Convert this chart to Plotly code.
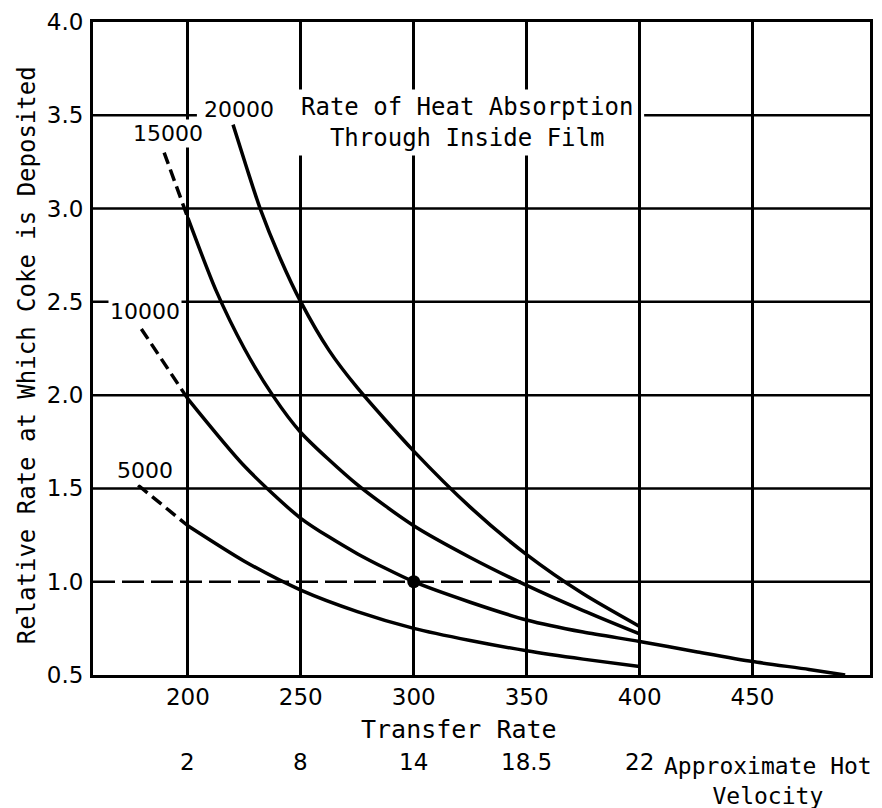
import plotly.graph_objects as go

# Heat transfer rate (x) vs. relative rate of coke deposition (y)
transfer_ticks = [200, 250, 300, 350, 400, 450]
coke_ticks = [0.5, 1.0, 1.5, 2.0, 2.5, 3.0, 3.5, 4.0]

# Approximate hot velocity at given transfer rates
velocity_rate = [200, 250, 300, 350, 400]
velocity_text = ["2", "8", "14", "18.5", "22"]

# Curves, one per rate of heat absorption through the inside film
curve_names = ["5000", "10000", "15000", "20000"]

rate_5000_ext = [178, 200]
coke_5000_ext = [1.517, 1.30]
rate_5000 = [200, 225, 250, 275, 300, 325, 350, 375, 400]
coke_5000 = [1.30, 1.11, 0.955, 0.84, 0.75, 0.685, 0.63, 0.585, 0.545]

rate_10000_ext = [179.4, 200]
coke_10000_ext = [2.355, 1.98]
rate_10000 = [200, 225, 250, 275, 300, 325, 350, 375, 400, 425, 450, 475, 491]
coke_10000 = [1.98, 1.62, 1.34, 1.15, 1.0, 0.89, 0.795, 0.73, 0.68, 0.625, 0.572, 0.53, 0.5]

rate_15000_ext = [189.5, 200]
coke_15000_ext = [3.30, 2.95]
rate_15000 = [200, 212.5, 225, 237.5, 250, 275, 300, 325, 350, 375, 400]
coke_15000 = [2.95, 2.56, 2.25, 2.00, 1.80, 1.52, 1.30, 1.13, 0.98, 0.845, 0.72]

rate_20000 = [220, 226, 232, 241, 250, 262.5, 275, 300, 325, 350, 375, 400]
coke_20000 = [3.45, 3.22, 3.0, 2.73, 2.5, 2.24, 2.04, 1.70, 1.40, 1.145, 0.935, 0.76]

# Reference point
ref_rate = [300]
ref_coke = [1.0]

INK = "black"
NUM_FONT = "DejaVu Sans"
WORD_FONT = "DejaVu Sans Mono"
X_RANGE = [158, 502]
Y_RANGE = [0.5, 4.0]

fig = go.Figure()

solid = dict(color=INK, width=3.5, shape="spline", smoothing=0.7)
dashed = dict(color=INK, width=3.5, dash="12px,6px")

for xs, ys in [(rate_5000_ext, coke_5000_ext), (rate_10000_ext, coke_10000_ext),
               (rate_15000_ext, coke_15000_ext)]:
    fig.add_trace(go.Scatter(x=xs, y=ys, mode="lines", line=dashed,
                             hoverinfo="skip", showlegend=False))

for name, xs, ys in [("5000", rate_5000, coke_5000), ("10000", rate_10000, coke_10000),
                     ("15000", rate_15000, coke_15000), ("20000", rate_20000, coke_20000)]:
    fig.add_trace(go.Scatter(x=xs, y=ys, mode="lines", line=solid, name=name,
                             showlegend=False))

fig.add_trace(go.Scatter(x=ref_rate, y=ref_coke, mode="markers",
                         marker=dict(color=INK, size=13), showlegend=False))

# Horizontal rules; the 1.0 rule is dashed across its left part and the
# 3.5 rule stops either side of the heading
rule = dict(color=INK, width=2.5)
shapes = []
for v in coke_ticks[2:-1]:
    if v == 3.5:
        spans = [(X_RANGE[0], 204), (402, X_RANGE[1])]
    else:
        spans = [(X_RANGE[0], X_RANGE[1])]
    for a, b in spans:
        shapes.append(dict(type="line", xref="x", yref="y", x0=a, x1=b,
                           y0=v, y1=v, line=rule, layer="below"))
shapes.append(dict(type="line", xref="x", yref="y", x0=X_RANGE[0], x1=365,
                   y0=1.0, y1=1.0, line=dict(color=INK, width=2.5, dash="22px,7px"),
                   layer="below"))
shapes.append(dict(type="line", xref="x", yref="y", x0=365, x1=X_RANGE[1],
                   y0=1.0, y1=1.0, line=rule, layer="below"))

annotations = []
label_pos = {"5000": (181, 1.594), "10000": (181, 2.45),
             "15000": (191.2, 3.40), "20000": (222.6, 3.53)}
for name in curve_names:
    lx, ly = label_pos[name]
    annotations.append(dict(x=lx, y=ly, xref="x", yref="y", text=name, showarrow=False,
                            xanchor="center", yanchor="middle",
                            font=dict(family=NUM_FONT, size=22, color=INK),
                            bgcolor="white", borderpad=1))

annotations.append(dict(x=323.7, y=3.46, xref="x", yref="y",
                        text="Rate of Heat Absorption<br>Through Inside Film",
                        showarrow=False, align="center", xanchor="center", yanchor="middle",
                        font=dict(family=WORD_FONT, size=24, color=INK),
                        bgcolor="white", borderpad=3))

# Axis titles
annotations.append(dict(x=-0.0846, y=0.49, xref="paper", yref="paper",
                        xanchor="center", yanchor="middle",
                        text="Relative Rate at Which Coke is Deposited", textangle=-90,
                        showarrow=False, font=dict(family=WORD_FONT, size=24, color=INK)))
annotations.append(dict(x=0.4705, y=-0.084, xref="paper", yref="paper",
                        xanchor="center", yanchor="middle",
                        text="Transfer Rate", showarrow=False,
                        font=dict(family=WORD_FONT, size=25, color=INK)))

# Velocity scale under the transfer-rate ticks
for r, t in zip(velocity_rate, velocity_text):
    annotations.append(dict(x=r, y=-0.133, xref="x", yref="paper", text=t,
                            xanchor="center", yanchor="middle", showarrow=False,
                            font=dict(family=NUM_FONT, size=23, color=INK)))
annotations.append(dict(x=0.869, y=-0.162, xref="paper", yref="paper",
                        xanchor="center", yanchor="middle",
                        text="Approximate Hot<br>Velocity", showarrow=False, align="center",
                        font=dict(family=WORD_FONT, size=23, color=INK)))

fig.update_layout(
    width=882, height=808, autosize=False,
    margin=dict(l=93, r=9, t=20, b=133),
    paper_bgcolor="white", plot_bgcolor="white",
    shapes=shapes, annotations=annotations,
    xaxis=dict(range=X_RANGE, tickvals=transfer_ticks,
               ticktext=[str(v) for v in transfer_ticks],
               showgrid=True, gridcolor=INK, gridwidth=2.5,
               showline=True, linecolor=INK, linewidth=3, mirror=True,
               ticks="", zeroline=False, ticklabelstandoff=-1,
               tickfont=dict(family=NUM_FONT, size=23, color=INK)),
    yaxis=dict(range=Y_RANGE, tickvals=coke_ticks,
               ticktext=[f"{v:.1f}" for v in coke_ticks],
               showgrid=False, showline=True, linecolor=INK, linewidth=3, mirror=True,
               ticks="", zeroline=False, ticklabelstandoff=2,
               tickfont=dict(family=NUM_FONT, size=23, color=INK)),
)

fig.write_html("out.html")
